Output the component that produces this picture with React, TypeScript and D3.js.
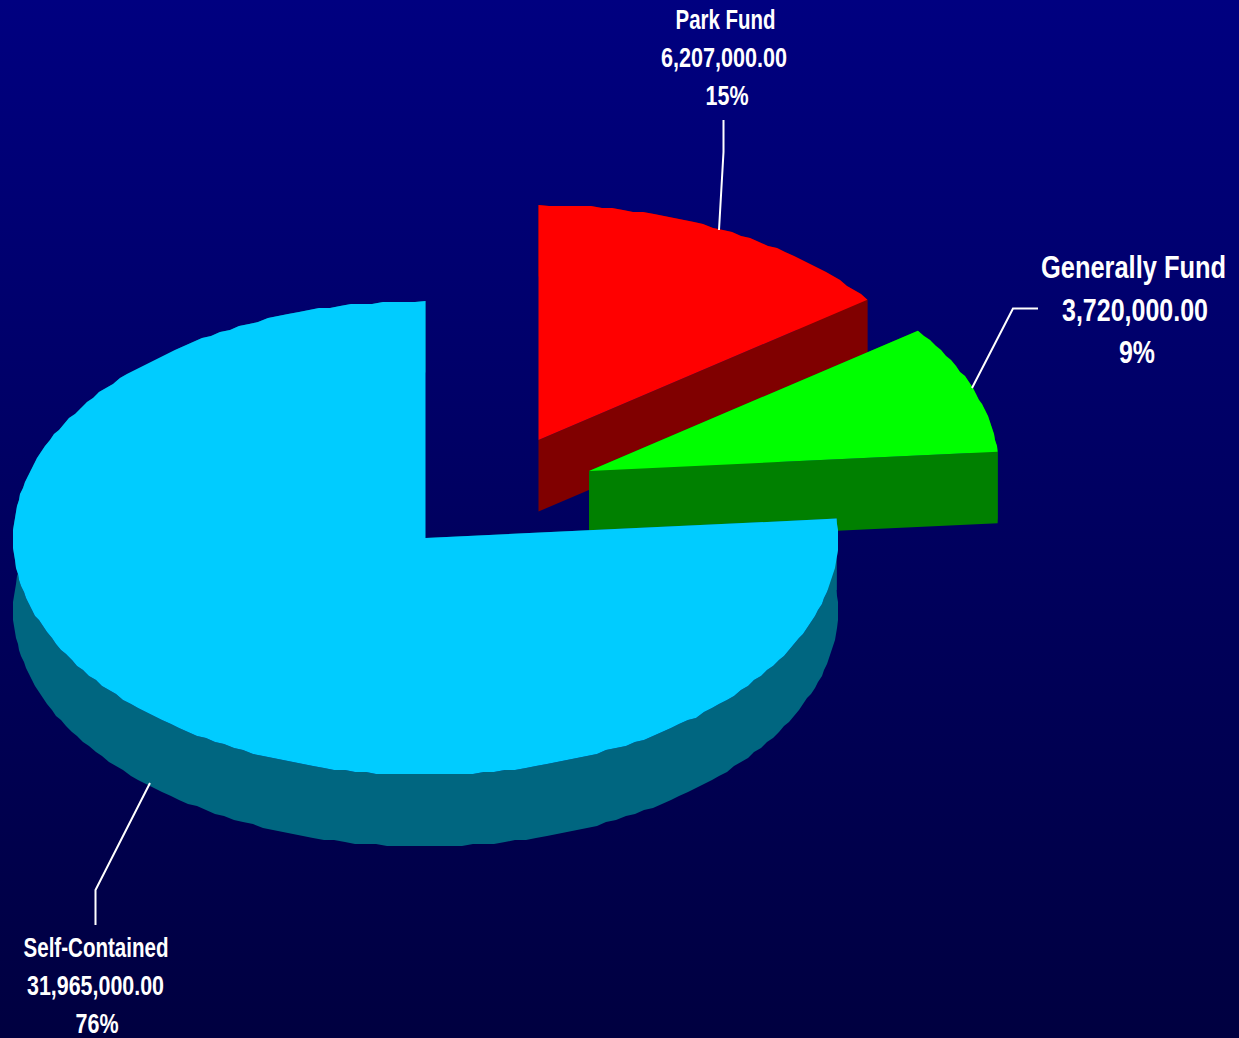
import React from "react";
import * as d3 from "d3";

const categories = ["Park Fund", "Generally Fund", "Self-Contained"];
const values = [6207000, 3720000, 31965000];
const valueLabels = ["6,207,000.00", "3,720,000.00", "31,965,000.00"];
const percentLabels = ["15%", "9%", "76%"];
const topColors = ["#ff0000", "#00ff00", "#00ccff"];
const sideColors = ["#800000", "#008000", "#006680"];
const centers: [number, number][] = [[538.5, 440], [589, 471], [425.5, 538]];
const radiiX = [410, 410, 412.5];
const radiiY = [235, 235, 237];
const leaders: [number, number][][] = [
  [[723.5, 120], [723.5, 152], [719, 230]],
  [[1038, 308.5], [1013, 308.5], [972, 388]],
  [[95.5, 925], [95.5, 890], [150, 783]],
];
const labelBoxes = [
  { widths: [100, 126, 43], ys: [28.5, 66.5, 104.5], size: 27 },
  { widths: [185, 146, 36], ys: [278, 321, 363], size: 31 },
  { widths: [145, 137, 43], ys: [957, 995, 1033], size: 27 },
];
const labelCx = [[725.5, 724, 727], [1133.5, 1135, 1137], [96, 95.5, 97]];

const W = 1239, H = 1038, DEPTH = 71.5, SNAP_Y = 2, STEP = (1.5 * Math.PI) / 180, SQUEEZE = 0.82;

const pie = d3.pie<number>().sort(null).startAngle(0).endAngle(2 * Math.PI);
const arcs = pie(values);

const pt = (i: number, a: number, dy = 0): [number, number] => [
  centers[i][0] + radiiX[i] * Math.sin(a),
  centers[i][1] - radiiY[i] * Math.cos(a) + dy,
];
// The reference's rims are coarse, lightly scalloped polygons: snap interior vertices to a small grid.
const sample = (i: number, a0: number, a1: number, dy = 0) => {
  const n = Math.max(2, Math.ceil((a1 - a0) / STEP));
  return d3.range(n + 1).map((k) => {
    const p = pt(i, a0 + ((a1 - a0) * k) / n, dy);
    if (k === 0 || k === n) return p;
    return [Math.round(p[0]), Math.round(p[1] / SNAP_Y) * SNAP_Y] as [number, number];
  });
};
const line = d3.line();

export default function App() {
  return (
    <svg width={W} height={H} style={{ position: "absolute", left: 0, top: 0, display: "block" }}>
      <defs>
        <linearGradient id="bg" x1="0" y1="0" x2="0" y2="1">
          <stop offset="0" stopColor="#000080" />
          <stop offset="1" stopColor="#000040" />
        </linearGradient>
      </defs>
      <rect width={W} height={H} fill="url(#bg)" />
      {arcs.map((d, i) => {
        const c = centers[i];
        const a0 = d.startAngle, a1 = d.endAngle;
        const topPath = [c, ...sample(i, a0, a1)] as [number, number][];
        const wall = [...sample(i, a0, a1), ...sample(i, a0, a1, DEPTH).reverse()] as [number, number][];
        const endFace = [c, pt(i, a1), pt(i, a1, DEPTH), [c[0], c[1] + DEPTH]] as [number, number][];
        const startFace = [c, pt(i, a0), pt(i, a0, DEPTH), [c[0], c[1] + DEPTH]] as [number, number][];
        return (
          <g key={categories[i]}>
            <path d={line(startFace)! + "Z"} fill={sideColors[i]} />
            <path d={line(endFace)! + "Z"} fill={sideColors[i]} />
            <path d={line(wall)! + "Z"} fill={sideColors[i]} />
            <path d={line(topPath)! + "Z"} fill={topColors[i]} />
          </g>
        );
      })}
      {leaders.map((l, i) => (
        <path key={i} d={line(l)!} fill="none" stroke="#ffffff" strokeWidth={2} />
      ))}
      {categories.map((name, i) =>
        [name, valueLabels[i], percentLabels[i]].map((t, j) => (
          <text
            key={t}
            transform={`translate(${labelCx[i][j]},${labelBoxes[i].ys[j]}) scale(${SQUEEZE},1)`}
            textAnchor="middle"
            fill="#ffffff"
            fontFamily="'Liberation Sans', Arial, sans-serif"
            fontWeight="bold"
            fontSize={labelBoxes[i].size}
            textLength={labelBoxes[i].widths[j] / SQUEEZE}
            lengthAdjust="spacingAndGlyphs"
          >
            {t}
          </text>
        ))
      )}
    </svg>
  );
}
